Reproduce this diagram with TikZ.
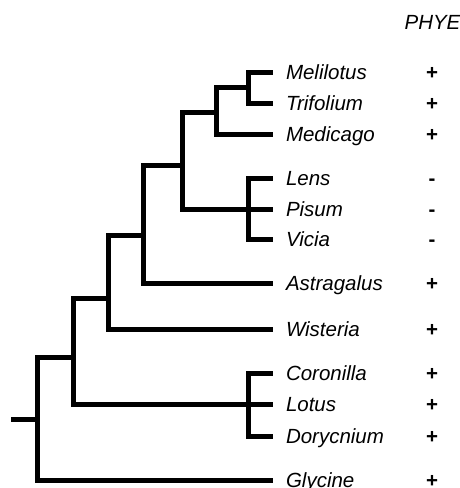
\documentclass[tikz,border=0pt]{standalone}
\usepackage{fontspec}
\setmainfont{Liberation Sans}

\begin{document}
\begin{tikzpicture}[
      x=1pt,y=-1pt,
      branch/.style={line width=5pt,line join=miter},
      taxon/.style={anchor=west,inner xsep=13pt,inner ysep=0pt,outer sep=0pt,
                    text height=14pt,text depth=0pt,
                    font=\fontsize{20.5}{24}\selectfont\itshape},
      state/.style={inner sep=0pt,outer sep=0pt,text height=14pt,text depth=0pt,
                    font=\fontsize{20.5}{24}\selectfont\bfseries},
    ]
    \useasboundingbox (0,0) rectangle (460,488);

    % Header
    \node[inner sep=0pt,font=\fontsize{20.5}{24}\selectfont\itshape] (phye) at (432.5,22) {PHYE};

    % Taxa and PHYE states
    \foreach \name/\y/\s in {Melilotus/72/+,Trifolium/103/+,Medicago/134/+,
                             Lens/178/-,Pisum/209/-,Vicia/239/-,
                             Astragalus/283/+,Wisteria/329/+,
                             Coronilla/373/+,Lotus/404/+,Dorycnium/436/+,
                             Glycine/480/+}{
      \node[taxon] (\name) at (273,\y) {\name};
      \node[state] (s\name) at (432,\y) {\s};
    }

    % Internal nodes
    \coordinate (base) at (11,419);
    \coordinate (root) at (37,419);
    \coordinate (nA) at (73,357);
    \coordinate (nB) at (108,298);
    \coordinate (nC) at (143,235);
    \coordinate (nD) at (182,165);
    \coordinate (nE) at (216,112);
    \coordinate (nF) at (248,87);
    \coordinate (nG) at (248,209);
    \coordinate (nH) at (248,404);

    % Branches
    \draw[branch] (base) -- (root);
    \foreach \p/\c in {root/nA,root/Glycine,nA/nB,nA/nH,nB/nC,nB/Wisteria,
                       nC/nD,nC/Astragalus,nD/nE,nD/nG,nE/nF,nE/Medicago,
                       nF/Melilotus,nF/Trifolium,nG/Lens,nG/Pisum,nG/Vicia,
                       nH/Coronilla,nH/Lotus,nH/Dorycnium}
      \draw[branch] (\p) |- (\c);

  \end{tikzpicture}
\end{document}
